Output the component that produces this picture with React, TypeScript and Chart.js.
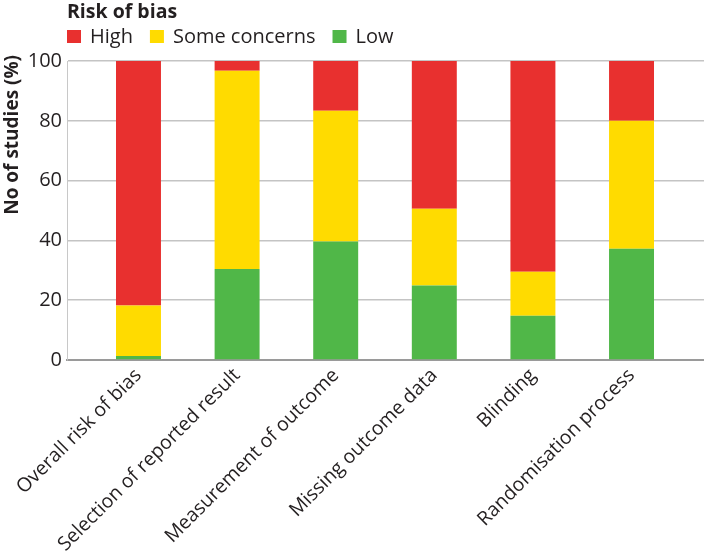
import React, { useEffect, useRef } from "react";
import { Chart, registerables } from "chart.js";

Chart.register(...registerables);

const categories = [
  "Overall risk of bias",
  "Selection of reported result",
  "Measurement of outcome",
  "Missing outcome data",
  "Blinding",
  "Randomisation process",
];
const lowValues = [1.3, 30.4, 39.6, 24.9, 14.8, 37.2];
const someConcernsValues = [16.9, 66.3, 43.8, 25.7, 14.7, 42.8];
const highValues = [81.8, 3.3, 16.6, 49.4, 70.5, 20.0];
const yTicks = [0, 20, 40, 60, 80, 100];
const legendTitle = "Risk of bias";
const yTitle = "No of studies (%)";

const FONT = "'Open Sans', sans-serif";

const legendPlugin = {
  id: "customLegend",
  afterDraw(chart: any) {
    const ctx = chart.ctx;
    const left = chart.chartArea.left;
    ctx.save();
    ctx.fillStyle = "#231f20";
    ctx.font = `bold 19.5px ${FONT}`;
    ctx.textAlign = "left";
    ctx.textBaseline = "middle";
    ctx.fillText(legendTitle, left, 12);
    let x = left;
    const ds = [...chart.data.datasets].reverse();
    ctx.font = `20px ${FONT}`;
    for (const d of ds) {
      ctx.fillStyle = d.backgroundColor;
      ctx.fillRect(x, 30, 14, 13);
      ctx.fillStyle = "#231f20";
      ctx.fillText(d.label, x + 23, 37);
      x += 23 + ctx.measureText(d.label).width + 17;
    }
    ctx.restore();
  },
};

const yTitlePlugin = {
  id: "yTitle",
  afterDraw(chart: any) {
    const ctx = chart.ctx;
    ctx.save();
    ctx.translate(12.5, 55);
    ctx.rotate(-Math.PI / 2);
    ctx.font = `bold 19px ${FONT}`;
    ctx.fillStyle = "#231f20";
    ctx.textAlign = "right";
    ctx.textBaseline = "middle";
    ctx.fillText(yTitle, 0, 0);
    ctx.restore();
  },
};

export default function App() {
  const ref = useRef<HTMLCanvasElement>(null);
  useEffect(() => {
    const toPts = (arr: number[]) => arr.map((y, i) => ({ x: i, y }));
    const chart = new Chart(ref.current!, {
      type: "bar",
      data: {
        datasets: [
          { label: "Low", data: toPts(lowValues), backgroundColor: "#50b748" },
          { label: "Some concerns", data: toPts(someConcernsValues), backgroundColor: "#ffdb00" },
          { label: "High", data: toPts(highValues), backgroundColor: "#e8302f" },
        ],
      },
      options: {
        responsive: false,
        animation: false,
        layout: { padding: { top: 61, left: 0, right: 0, bottom: 0 } },
        datasets: { bar: { barPercentage: 0.456, categoryPercentage: 1 } },
        plugins: { legend: { display: false }, tooltip: { enabled: false } },
        scales: {
          x: {
            type: "linear",
            stacked: true,
            offset: false,
            min: -0.725,
            max: 5.735,
            grid: { display: false, drawTicks: false },
            border: { display: true, color: "#9a9a9a", width: 2 },
            afterBuildTicks: (s: any) => {
              s.ticks = categories.map((_, i) => ({ value: i }));
            },
            afterFit: (s: any) => {
              s.height = 193;
            },
            ticks: {
              autoSkip: false,
              minRotation: 45,
              maxRotation: 45,
              padding: 4,
              color: "#231f20",
              font: { family: FONT, size: 19.5 },
              callback: (v: any) => categories[v] ?? "",
            },
          },
          y: {
            stacked: true,
            min: 0,
            max: 100,
            afterBuildTicks: (s: any) => {
              s.ticks = yTicks.map((v) => ({ value: v }));
            },
            afterFit: (s: any) => {
              s.width = 67;
            },
            grid: { color: "#c4c4c4", lineWidth: 1.5, drawTicks: false },
            border: { display: true, color: "#c8c8c8", width: 1 },
            ticks: {
              padding: 5,
              color: "#231f20",
              font: { family: FONT, size: 20 },
            },
          },
        },
      },
      plugins: [legendPlugin, yTitlePlugin],
    });
    return () => chart.destroy();
  }, []);
  return (
    <div style={{ position: "fixed", left: 0, top: 0, width: 704, height: 553, background: "#fff" }}>
      <canvas ref={ref} width={704} height={553} style={{ display: "block" }} />
    </div>
  );
}
